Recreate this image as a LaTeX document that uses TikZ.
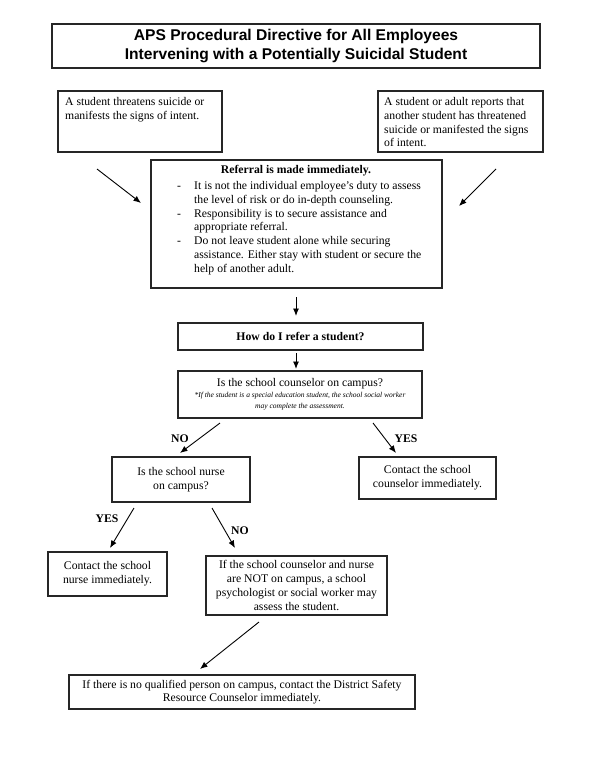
\documentclass[tikz,border=0pt]{standalone}
\usepackage{fontspec}
\setmainfont{Liberation Serif}
\newfontfamily\titlefont{Liberation Sans}
\usetikzlibrary{arrows.meta}
\begin{document}
\begin{tikzpicture}[x=1pt,y=-1pt,
  box/.style={draw=black!85, line width=1.2pt, inner sep=0pt},
  cbox/.style={box, align=center, font=\fontsize{11.7}{13.7}\selectfont},
  arr/.style={line width=0.9pt, -{Latex[length=7.5pt,width=6pt]}},
  txt/.style={inner sep=0pt, align=left, font=\fontsize{11.7}{13.7}\selectfont},
  lbl/.style={inner sep=0pt, font=\fontsize{11.7}{13}\selectfont\bfseries}]
\useasboundingbox (0,0) rectangle (593,768);
\fill[white] (0,0) rectangle (593,768);

% title
\node[box, minimum width=488pt, minimum height=44pt, align=center,
  font=\titlefont\bfseries\fontsize{15.6}{19}\selectfont] (title) at (296,46)
  {APS Procedural Directive for All Employees\\Intervening with a Potentially Suicidal Student};

% top boxes
\node[box, minimum width=164pt, minimum height=61pt] (ltop) at (140,121.5) {};
\node[txt, anchor=north west] (ltoptxt) at (65,97.5)
  {A student threatens suicide or\\manifests the signs of intent.};
\node[box, minimum width=165pt, minimum height=61pt] (rtop) at (460.5,121.5) {};
\node[txt, anchor=north west] (rtoptxt) at (384,97.5)
  {A student or adult reports that\\another student has threatened\\suicide or manifested the signs\\of intent.};

% referral box
\node[box, minimum width=291pt, minimum height=128pt] (ref) at (296.5,224) {};
\node[lbl] (reftitle) at (296,171) {Referral is made immediately.};
\node[txt, anchor=north west] (reflist) at (177,181.5)
  {\makebox[17pt][l]{-}It is not the individual employee’s duty to assess\\
   \makebox[17pt]{}the level of risk or do in-depth counseling.\\
   \makebox[17pt][l]{-}Responsibility is to secure assistance and\\
   \makebox[17pt]{}appropriate referral.\\
   \makebox[17pt][l]{-}Do not leave student alone while securing\\
   \makebox[17pt]{}assistance. Either stay with student or secure the\\
   \makebox[17pt]{}help of another adult.};

% how do I refer
\node[box, minimum width=245pt, minimum height=27pt,
  font=\fontsize{11.7}{13}\selectfont\bfseries] (how) at (300.5,336.5) {How do I refer a student?};

% is the counselor on campus
\node[box, minimum width=244pt, minimum height=47pt, align=center,
  font=\fontsize{7.5}{11}\selectfont] (isq) at (300,394.5)
  {{\fontsize{11.7}{13}\selectfont Is the school counselor on campus?}\\
   {\itshape *If the student is a special education student, the school social worker}\\
   {\itshape may complete the assessment.}};

% second level
\node[cbox, minimum width=138pt, minimum height=45pt] (nurse) at (181,479.5)
  {Is the school nurse\\on campus?};
\node[cbox, minimum width=137pt, minimum height=42pt] (ccouns) at (427.5,478)
  {Contact the school\\counselor immediately.};

% third level
\node[cbox, minimum width=119pt, minimum height=44pt] (cnurse) at (107.5,574)
  {Contact the school\\nurse immediately.};
\node[cbox, minimum width=181pt, minimum height=59pt] (psych) at (296.5,585.5)
  {If the school counselor and nurse\\are NOT on campus, a school\\psychologist or social worker may\\assess the student.};

% final
\node[cbox, minimum width=346pt, minimum height=34pt] (final) at (242,692)
  {If there is no qualified person on campus, contact the District Safety\\Resource Counselor immediately.};

% arrow end points
\coordinate (a1s) at (97,169);   \coordinate (a1e) at (141,203);
\coordinate (a2s) at (496,169);  \coordinate (a2e) at (459,206);
\coordinate (a3s) at (296,297);  \coordinate (a3e) at (296,316);
\coordinate (a4s) at (296,353);  \coordinate (a4e) at (296,369);
\coordinate (a5s) at (220,423);  \coordinate (a5e) at (180,453);
\coordinate (a6s) at (373,423);  \coordinate (a6e) at (396,453);
\coordinate (a7s) at (134,508);  \coordinate (a7e) at (110,548);
\coordinate (a8s) at (212,508);  \coordinate (a8e) at (235,548);
\coordinate (a9s) at (259,622);  \coordinate (a9e) at (200,669);

\draw[arr] (a1s) -- (a1e);
\draw[arr] (a2s) -- (a2e);
\draw[arr] (a3s) -- (a3e);
\draw[arr] (a4s) -- (a4e);
\draw[arr] (a5s) -- (a5e);
\draw[arr] (a6s) -- (a6e);
\draw[arr] (a7s) -- (a7e);
\draw[arr] (a8s) -- (a8e);
\draw[arr] (a9s) -- (a9e);

% labels
\node[lbl] (no1) at (180,439) {NO};
\node[lbl] (yes1) at (406,439) {YES};
\node[lbl] (yes2) at (107,519) {YES};
\node[lbl] (no2) at (240,531) {NO};
\end{tikzpicture}
\end{document}
